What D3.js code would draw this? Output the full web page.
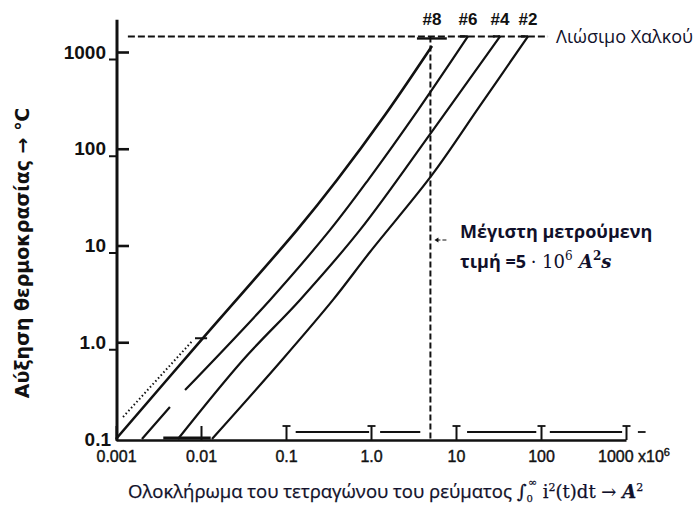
<!DOCTYPE html>
<html>
<head>
<meta charset="utf-8">
<script src="https://cdn.jsdelivr.net/npm/d3@7"></script>
<style>
  html, body { margin: 0; padding: 0; background: #fff; }
  svg { display: block; }
</style>
</head>
<body>
<svg id="chart" width="696" height="506"></svg>
<script>
// ---- axis ticks ----
const xTickValues = [0.001, 0.01, 0.1, 1, 10, 100, 1000];
const xTickLabels = ["0.001", "0.01", "0.1", "1.0", "10", "100", "1000"];
const yTickValues = [0.1, 1, 10, 100, 1000];
const yTickLabels = ["0.1", "1.0", "10", "100", "1000"];

// ---- wire gauges: [∫i²dt in 10^6 A²s, temperature rise in °C] ----
const wireNames = ["#8", "#6", "#4", "#2"];
const wire8 = [[0.001, 0.1], [0.0106, 1.11], [0.135, 14.5], [0.398, 47.5], [1.46, 223], [5.22, 1153]];
const wire6 = [[0.00202, 0.1], [0.00431, 0.214], null, [0.00649, 0.321], [0.0649, 2.74], [0.33, 14.5], [0.923, 47.5], [3.57, 251], [13.8, 1450]];
const wire4 = [[0.00536, 0.1], [0.0312, 0.656], [0.146, 2.74], [0.743, 14.5], [5.36, 156], [33, 1450]];
const wire2 = [[0.01346, 0.1], [0.0897, 0.656], [0.357, 2.74], [0.973, 8.57], [5.22, 53.6], [19.1, 277], [70.3, 1450]];
// short flat ends where each curve meets the melting level
const wireHooks = [[11.1, 13.8], [27.2, 33], [58.2, 70.3]];
const wire8Dotted = [[0.00121, 0.169], [0.00805, 1.05]];
const wire8DottedEnd = [[0.0085, 1.1], [0.0118, 1.1]];
const wire8Cap = [[3.47, 1380], [7.8, 1380]];

// ---- reference levels ----
const copperMelt = 1450;          // °C
const meltLineSpan = [0.00138, 121];
const maxMeasured = 5;            // ×10^6 A²s
const axisTop = 2150;             // upper end of the temperature axis line

// ---- axis ruler segments drawn just above the baseline ----
const rulerSegments = [[0.13, 0.95], [1.28, 3.8], [13.5, 88], [127, 900], [1380, 1700]];
const heavyBase = [[0.0036, 0.013]];

const wires = [wire8, wire6, wire4, wire2];

const svg = d3.select("#chart");
const ink = "#111";
const textInk = "#10102a";
const sansGreek = "'Open Sans', 'Noto Sans', sans-serif";
const mathSerif = "'DejaVu Serif', 'Liberation Serif', serif";
const tickFont = "'Liberation Sans', Arial, sans-serif";

const x = d3.scaleLog().domain([0.001, 1000]).range([116, 626]);
const y = d3.scaleLog().domain([0.1, 1000]).range([439, 52]);

// ---- x axis ----
const lastX = xTickValues[xTickValues.length - 1];
const xAxis = d3.axisBottom(x)
  .tickValues(xTickValues)
  .tickFormat((d, i) => i === xTickValues.length - 1 ? "" : xTickLabels[i])
  .tickSizeInner(-14)
  .tickSizeOuter(0)
  .tickPadding(11);

const gx = svg.append("g")
  .attr("transform", `translate(0,${y(0.1) + 1})`)
  .call(xAxis);
gx.select(".domain").attr("stroke", ink).attr("stroke-width", 2.6);
gx.selectAll(".tick line").attr("stroke", ink).attr("stroke-width", 2);
gx.selectAll(".tick text")
  .attr("font-family", tickFont)
  .attr("font-size", 16)
  .attr("fill", ink)
  .attr("stroke", ink)
  .attr("stroke-width", 0.4);
// small crossbars on the upper decade ticks
gx.selectAll(".tick").filter(d => d >= 0.1)
  .append("line")
  .attr("x1", -4).attr("x2", 4)
  .attr("y1", -14).attr("y2", -14)
  .attr("stroke", ink).attr("stroke-width", 1.8);
// last decade label carries the ×10^6 multiplier
gx.append("text")
  .attr("x", x(lastX) - 28)
  .attr("y", 11)
  .attr("dy", "0.71em")
  .attr("text-anchor", "start")
  .attr("font-family", tickFont)
  .attr("font-size", 16)
  .attr("fill", ink)
  .attr("stroke", ink)
  .attr("stroke-width", 0.4)
  .call(t => {
    t.append("tspan").text(xTickLabels[xTickLabels.length - 1] + " x10");
    t.append("tspan").attr("dy", -6).attr("font-size", 11).text("6");
  });

// ruler lines just above the baseline
svg.append("g").selectAll("line")
  .data(rulerSegments)
  .join("line")
  .attr("x1", d => x(d[0])).attr("x2", d => x(d[1]))
  .attr("y1", y(0.1) - 7).attr("y2", y(0.1) - 7)
  .attr("stroke", ink).attr("stroke-width", 1.8);
svg.append("g").selectAll("line")
  .data(heavyBase)
  .join("line")
  .attr("x1", d => x(d[0])).attr("x2", d => x(d[1]))
  .attr("y1", y(0.1) - 1).attr("y2", y(0.1) - 1)
  .attr("stroke", ink).attr("stroke-width", 3);

// ---- y axis ----
const yAxis = d3.axisLeft(y)
  .tickValues(yTickValues)
  .tickFormat((d, i) => yTickLabels[i])
  .tickSizeInner(-12)
  .tickSizeOuter(0)
  .tickPadding(11);

const gy = svg.append("g")
  .attr("transform", `translate(${x(0.001) + 1},0)`)
  .call(yAxis);
gy.select(".domain").remove();
gy.selectAll(".tick line").attr("stroke", ink).attr("stroke-width", 2.6);
gy.selectAll(".tick").filter(d => d === 0.1).select("line").remove();
gy.selectAll(".tick").filter(d => d === 0.1).select("text").attr("x", -6);
gy.selectAll(".tick text")
  .attr("font-family", tickFont)
  .attr("font-weight", "bold")
  .attr("font-size", 19)
  .attr("fill", ink);
// short stubs under each label next to the axis
gy.selectAll(".tick").filter(d => d >= 1)
  .append("line")
  .attr("x1", -8).attr("x2", 0)
  .attr("y1", 7).attr("y2", 7)
  .attr("stroke", ink).attr("stroke-width", 2);

svg.append("line")
  .attr("x1", x(0.001) + 1).attr("x2", x(0.001) + 1)
  .attr("y1", y(axisTop)).attr("y2", y(0.1) + 2)
  .attr("stroke", ink).attr("stroke-width", 3);

// ---- copper melting level ----
svg.append("line")
  .attr("x1", x(meltLineSpan[0])).attr("x2", x(meltLineSpan[1]))
  .attr("y1", y(copperMelt)).attr("y2", y(copperMelt))
  .attr("stroke", ink).attr("stroke-width", 2)
  .attr("stroke-dasharray", "7,3");

svg.append("text")
  .attr("x", x(meltLineSpan[1]) + 8)
  .attr("y", y(copperMelt))
  .attr("dy", "0.35em")
  .attr("font-family", sansGreek)
  .attr("font-size", 18)
  .attr("fill", textInk)
  .text("Λιώσιμο Χαλκού");

// ---- maximum measured value ----
svg.append("line")
  .attr("x1", x(maxMeasured)).attr("x2", x(maxMeasured))
  .attr("y1", y(copperMelt)).attr("y2", y(0.1))
  .attr("stroke", ink).attr("stroke-width", 2)
  .attr("stroke-dasharray", "6,3");

// ---- wire curves ----
const line = d3.line()
  .defined(d => d !== null)
  .curve(d3.curveCatmullRom.alpha(0.5))
  .x(d => x(d[0]))
  .y(d => y(d[1]));
const straight = d3.line()
  .x(d => x(d[0]))
  .y(d => y(d[1]));

svg.append("g")
  .selectAll("path")
  .data(wires)
  .join("path")
  .attr("d", line)
  .attr("fill", "none")
  .attr("stroke", ink)
  .attr("stroke-width", (d, i) => i === 0 ? 2.6 : 2.2)
  .attr("stroke-linejoin", "round");

svg.append("g")
  .selectAll("line")
  .data(wireHooks)
  .join("line")
  .attr("x1", d => x(d[0])).attr("x2", d => x(d[1]))
  .attr("y1", y(copperMelt)).attr("y2", y(copperMelt))
  .attr("stroke", ink).attr("stroke-width", 2.4);

svg.append("path")
  .attr("d", straight(wire8Dotted))
  .attr("fill", "none")
  .attr("stroke", ink)
  .attr("stroke-width", 2)
  .attr("stroke-dasharray", "1.5,2.5");
svg.append("path")
  .attr("d", straight(wire8DottedEnd))
  .attr("fill", "none")
  .attr("stroke", ink)
  .attr("stroke-width", 2);
svg.append("path")
  .attr("d", straight(wire8Cap))
  .attr("fill", "none")
  .attr("stroke", ink)
  .attr("stroke-width", 2.4);

// gauge labels above the top of each curve
svg.append("g")
  .selectAll("text")
  .data(wires)
  .join("text")
  .attr("x", d => x(d[d.length - 1][0]))
  .attr("y", 25)
  .attr("text-anchor", "middle")
  .attr("font-family", tickFont)
  .attr("font-weight", "bold")
  .attr("font-size", 17)
  .attr("fill", ink)
  .text((d, i) => wireNames[i]);

// ---- annotation for the maximum measured value ----
const arrowY = 240;
svg.append("line")
  .attr("x1", x(maxMeasured) + 6).attr("x2", x(maxMeasured) + 16)
  .attr("y1", arrowY).attr("y2", arrowY)
  .attr("stroke", ink).attr("stroke-width", 1)
  .attr("stroke-dasharray", "4,2");
svg.append("path")
  .attr("d", `M${x(maxMeasured) + 4},${arrowY} l4,-2.5 l0,5 z`)
  .attr("fill", ink);

svg.append("text")
  .attr("x", 460).attr("y", 238)
  .attr("font-family", sansGreek)
  .attr("font-weight", "bold")
  .attr("font-size", 18)
  .attr("fill", textInk)
  .text("Μέγιστη μετρούμενη");

const note2 = svg.append("text")
  .attr("x", 460).attr("y", 268)
  .attr("font-family", sansGreek)
  .attr("font-weight", "bold")
  .attr("font-size", 18)
  .attr("fill", textInk);
note2.append("tspan").text("τιμή =5 ");
note2.append("tspan").attr("font-family", mathSerif).attr("font-weight", "normal").text("· 10");
note2.append("tspan").attr("font-family", mathSerif).attr("font-weight", "normal").attr("font-size", 12).attr("dy", -8).text("6");
note2.append("tspan").attr("font-family", mathSerif).attr("font-style", "italic").attr("dy", 8).text(" A");
note2.append("tspan").attr("font-family", mathSerif).attr("font-size", 12).attr("dy", -8).text("2");
note2.append("tspan").attr("font-family", mathSerif).attr("font-style", "italic").attr("dy", 8).text("s");

// ---- axis titles ----
svg.append("text")
  .attr("transform", "translate(29,253) rotate(-90)")
  .attr("text-anchor", "middle")
  .attr("font-family", "'DejaVu Sans', Verdana, sans-serif")
  .attr("font-weight", "bold")
  .attr("font-size", 19)
  .attr("fill", ink)
  .text("Αύξηση θερμοκρασίας → ℃");

const xt = svg.append("text")
  .attr("x", 128).attr("y", 498)
  .attr("font-family", sansGreek)
  .attr("font-size", 18.5)
  .attr("fill", textInk)
  .attr("stroke", textInk)
  .attr("stroke-width", 0.25);
xt.append("tspan").text("Ολοκλήρωμα του τετραγώνου του ρεύματος ");
xt.append("tspan").attr("font-family", mathSerif).attr("font-size", 19).text("∫");
xt.append("tspan").attr("font-family", mathSerif).attr("font-size", 10).attr("dy", 4).text("0");
xt.append("tspan").attr("font-family", mathSerif).attr("font-size", 11).attr("dx", -5).attr("dy", -16).text("∞");
xt.append("tspan").attr("font-family", mathSerif).attr("font-size", 18).attr("dy", 12).text(" i");
xt.append("tspan").attr("font-family", mathSerif).attr("font-size", 11).attr("dy", -7).text("2");
xt.append("tspan").attr("font-family", mathSerif).attr("font-size", 18).attr("dy", 7).text("(t)dt → ");
xt.append("tspan").attr("font-family", mathSerif).attr("font-size", 18).attr("font-style", "italic").attr("font-weight", "bold").text("A");
xt.append("tspan").attr("font-family", mathSerif).attr("font-size", 11).attr("dy", -7).text("2");
</script>
</body>
</html>
